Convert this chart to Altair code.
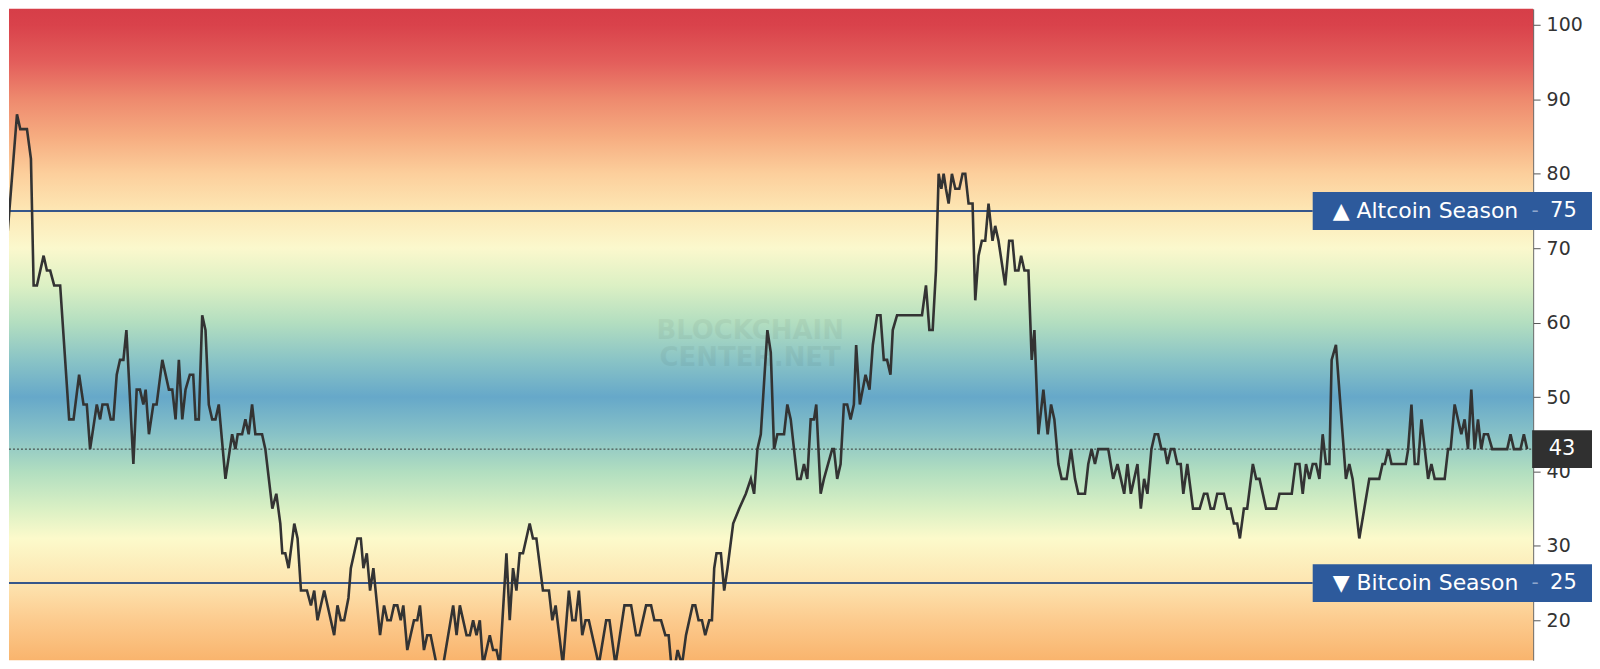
import altair as alt
import pandas as pd

# ---- data ----
day = [0, 2.7, 6, 16, 19.3, 26, 30, 32.7, 36, 42.7, 46, 49.3, 53.3, 59.3, 68.3, 72.7, 78.3, 82.7, 86, 89.3,
       96, 99.3, 101.7, 106.7, 110, 112.7, 116, 119.3, 122.7, 125.7, 132.7, 136, 139.3, 142.7, 145, 148.3,
       152.7, 156, 161.7, 168.3, 171.7, 175, 178.3, 181.7, 185, 189.3, 192.7, 195, 198.3, 201.7, 205, 208.3,
       211.7, 215, 218.3, 225, 231.7, 235, 237.3, 241.7, 245, 248.3, 251.7, 255, 261.7, 265, 272, 276, 280,
       282, 285, 288.3, 294, 297.3, 300.7, 306.7, 310.7, 314, 317.3, 324, 334, 337.3, 340.7, 344, 348.3,
       350.7, 357.3, 360.7, 363.3, 366.7, 370, 373.3, 380, 384, 387.3, 390.7, 394, 397.3, 400.7, 403.3,
       407.3, 414, 417.3, 420, 424, 427.3, 430.7, 436.7, 443.3, 453.3, 456.7, 460, 466.7, 470, 473.3, 476.7,
       480, 483.3, 490, 493.3, 496.7, 500, 506.7, 510, 513.3, 516.7, 520, 523.3, 530, 533.3, 536.7, 543.3,
       549.3, 552.7, 556, 563.3, 569.3, 572.7, 576, 579.3, 582.7, 586, 589.3, 599.3, 606.7, 610, 616, 625,
       631.7, 636.7, 640, 646.7, 651.7, 655, 661.7, 666, 669.3, 673.3, 678.3, 682.7, 686.7, 693.3, 696,
       699.3, 702.7, 706, 710, 712.7, 715, 717.3, 721.7, 725, 728.3, 734, 740, 746.7, 751.7, 755, 758.3,
       761.7, 768.3, 771.7, 775, 778.3, 785, 788.3, 791.7, 798.3, 801.7, 805, 808.3, 811.7, 815, 817.3,
       821.7, 825, 833.3, 835, 838.3, 841.7, 845, 848.3, 851.7, 855, 857.3, 861, 866.7, 870.7, 874, 878.3,
       881.7, 885, 888.3, 891.7, 894, 898.3, 923.3, 927.3, 930.7, 934, 937.3, 940, 942.7, 945, 947.3, 950,
       953.3, 956.7, 960.7, 964, 966.7, 970, 974, 976.7, 980, 983.3, 986.7, 990, 994, 996.7, 1000, 1006.7,
       1010.7, 1014, 1016.7, 1020, 1022.7, 1026, 1030, 1033.3, 1036, 1040, 1045, 1049.3, 1052.7, 1056,
       1060, 1063.3, 1068.3, 1072.7, 1076.7, 1080, 1086.7, 1090, 1093.3, 1096.7, 1100, 1110, 1115, 1119.3,
       1122.7, 1126, 1129.3, 1132.7, 1136, 1139.3, 1142.7, 1146, 1149.3, 1153.3, 1156.7, 1160, 1163.3,
       1166.7, 1169.3, 1172.7, 1176, 1179.3, 1182.7, 1185.3, 1189.3, 1195, 1201.7, 1206, 1209.3, 1212.7,
       1216, 1219.3, 1226, 1229.3, 1232.7, 1236, 1239.3, 1242, 1246, 1249.3, 1255, 1258.3, 1261.7, 1268.3,
       1278.3, 1281.7, 1294, 1297.7, 1301.7, 1305, 1308.3, 1311.7, 1315, 1318.3, 1321.7, 1325, 1328.3,
       1331.7, 1334, 1338.3, 1348.3, 1351.7, 1355, 1361.7, 1366.7, 1371.7, 1381.7, 1385, 1387.3, 1390.7,
       1394, 1408.3, 1410.7, 1414, 1417.3, 1420.7, 1424, 1430.7, 1434, 1437.3, 1447.3, 1450.7, 1453.3,
       1457.3, 1464, 1467.3, 1470.7, 1474, 1477.3, 1480.7, 1484, 1486.7, 1490.7, 1495, 1510, 1513.3,
       1516.7, 1523.3, 1526.7, 1530]

index = [65, 71, 71, 88, 86, 86, 82, 65, 65, 69, 67, 67, 65, 65, 47, 47, 53, 49, 49, 43,
         49, 47, 49, 49, 47, 47, 53, 55, 55, 59, 41, 51, 51, 49, 51, 45,
         49, 49, 55, 51, 51, 47, 55, 47, 51, 53, 53, 47, 47, 61, 59, 49,
         47, 47, 49, 39, 45, 43, 45, 45, 47, 45, 49, 45, 45, 43, 35, 37, 33,
         29, 29, 27, 33, 31, 24, 24, 22, 24, 20, 24, 18, 22, 20, 20, 23,
         27, 31, 31, 27, 29, 24, 27, 18, 22, 20, 20, 22, 22, 20, 22,
         16, 20, 20, 22, 16, 18, 18, 14, 14, 22, 18, 22, 18, 18, 20, 18,
         20, 14, 18, 16, 16, 14, 29, 20, 27, 24, 29, 29, 33, 31, 31, 24,
         24, 20, 22, 14, 24, 20, 20, 24, 18, 20, 20, 14, 20, 20, 14, 22,
         22, 18, 18, 22, 22, 20, 20, 18, 18, 12, 16, 14, 18, 22, 22,
         20, 20, 18, 20, 20, 27, 29, 29, 24, 27, 33, 35, 37, 39, 37, 43,
         45, 59, 56, 43, 45, 45, 49, 47, 39, 39, 41, 39, 47, 47, 49,
         37, 39, 43, 43, 39, 41, 49, 49, 47, 49, 57, 49, 53, 51, 57, 61,
         61, 55, 55, 53, 59, 61, 61, 65, 59, 59, 67, 80, 78, 80, 78, 76,
         80, 78, 78, 80, 80, 76, 76, 63, 69, 71, 71, 76, 71, 73, 71, 65,
         71, 71, 67, 67, 69, 67, 67, 55, 59, 45, 51, 45, 49, 47,
         41, 39, 39, 43, 39, 37, 37, 41, 43, 41, 43, 43, 39, 41,
         39, 37, 41, 37, 39, 41, 35, 39, 37, 43, 45, 45, 43,
         43, 41, 43, 43, 41, 41, 37, 41, 35, 35, 37, 37, 35,
         35, 37, 37, 35, 35, 33, 33, 31, 35, 35, 41, 39, 39, 35,
         35, 37, 37, 41, 41, 37, 41, 39, 41, 41, 39, 45, 41,
         41, 55, 57, 39, 41, 39, 31, 35, 39, 39, 41, 41, 43,
         41, 41, 43, 49, 41, 41, 47, 39, 41, 39, 39, 43, 43,
         49, 45, 47, 43, 51, 43, 47, 43, 45, 45, 43, 43, 45,
         43, 43, 45, 43]

current_value = 43
season_levels = [75, 25]
season_labels = ["▲ Altcoin Season", "▼ Bitcoin Season"]
y_ticks = [20, 30, 40, 50, 60, 70, 80, 90, 100]
watermark = ["BLOCKCHAIN", "CENTER.NET"]

# gradient colours by index level
grad_levels = [102.2, 100, 95, 90, 85, 80, 75, 70, 65, 60, 55, 50, 45, 40, 35, 31, 25, 20, 14.6]
grad_colors = ["#d63e48", "#d9424b", "#e35e5b", "#ee8a6e", "#f6ac80", "#fccf9c", "#fde7b4", "#fbf8cd",
               "#dcf0c4", "#b3dec0", "#8ac4c6", "#66a8c9", "#88c2c7", "#b1dec0", "#daf0c4", "#fcfacb",
               "#fde4b0", "#fccb8e", "#f9b46d"]

# ---- layout ----
W, H = 1528, 653
X0, X1 = 8, 1536
Y0, Y1 = 14.64, 102.17
PX_PER_UNIT = H / (Y1 - Y0)

df = pd.DataFrame({"day": day, "index": index})
xs = alt.Scale(domain=[X0, X1], nice=False, zero=False)
ys = alt.Scale(domain=[Y0, Y1], nice=False, zero=False)
yaxis = alt.Axis(orient="right", values=y_ticks, title=None, grid=False, labelFontSize=19,
                 labelFont="DejaVu Sans", labelColor="#333333", tickColor="#555555", tickSize=7,
                 domainColor="#555555", labelPadding=6)


def ydat(v):
    return alt.YDatum(v, scale=ys, axis=yaxis)


stops = [alt.GradientStop(offset=(Y1 - v) / (Y1 - Y0), color=c) for v, c in zip(grad_levels, grad_colors)]
bg = alt.Chart().mark_rect(
    fill=alt.Gradient(gradient="linear", stops=stops, x1=0, x2=0, y1=0, y2=1)
).encode(
    x=alt.XDatum(X0, scale=xs, axis=None), x2=alt.X2Datum(X1),
    y=ydat(Y1), y2=alt.Y2Datum(Y0),
)

wms = [alt.Chart().mark_text(text=t, font="DejaVu Sans", fontSize=26, fontWeight="bold",
                             color="#000000", opacity=0.045, align="center", baseline="middle").encode(
    x=alt.value(743), y=alt.value(yp)) for t, yp in zip(watermark, [323, 350])]

cur_rule = alt.Chart().mark_rule(color="#333333", strokeWidth=1, strokeDash=[2, 2]).encode(
    y=ydat(current_value), x=alt.value(0), x2=alt.value(1527))

season_rules = [alt.Chart().mark_rule(color="#36568a", strokeWidth=2).encode(
    y=ydat(lv), x=alt.value(0), x2=alt.value(1307)) for lv in season_levels]

line = alt.Chart(df).mark_line(color="#333333", strokeWidth=2.6, clip=True).encode(
    x=alt.X("day:Q", scale=xs, axis=None),
    y=alt.Y("index:Q", scale=ys, axis=yaxis),
)

half = 19 / PX_PER_UNIT
boxes = []
for lv, lab in zip(season_levels, season_labels):
    boxes.append(alt.Chart().mark_rect(color="#2d5a9c").encode(
        x=alt.value(1307), x2=alt.value(1587),
        y=ydat(lv + half), y2=alt.Y2Datum(lv - half)))
    boxes.append(alt.Chart().mark_text(text=lab, font="DejaVu Sans", fontSize=22, color="white",
                                       align="left", baseline="middle").encode(
        x=alt.value(1327), y=ydat(lv)))
    boxes.append(alt.Chart().mark_text(text="-", font="DejaVu Sans", fontSize=20, color="#8ea6cc",
                                       align="center", baseline="middle").encode(
        x=alt.value(1530), y=ydat(lv)))
    boxes.append(alt.Chart().mark_text(text=str(lv), font="DejaVu Sans", fontSize=21, color="white",
                                       align="left", baseline="middle").encode(
        x=alt.value(1545), y=ydat(lv)))

cur_box = alt.Chart().mark_rect(color="#303030").encode(
    x=alt.value(1527), x2=alt.value(1587),
    y=ydat(current_value + half), y2=alt.Y2Datum(current_value - half))
cur_text = alt.Chart().mark_text(text=str(current_value), font="DejaVu Sans", fontSize=21, color="white",
                                 align="center", baseline="middle").encode(
    x=alt.value(1557), y=ydat(current_value))

chart = alt.layer(bg, *wms, cur_rule, *season_rules, line, *boxes, cur_box, cur_text).properties(
    width=W, height=H, padding=0
).configure_view(stroke=None)

chart.save("out.html", embed_options={"renderer": "svg", "actions": False})
